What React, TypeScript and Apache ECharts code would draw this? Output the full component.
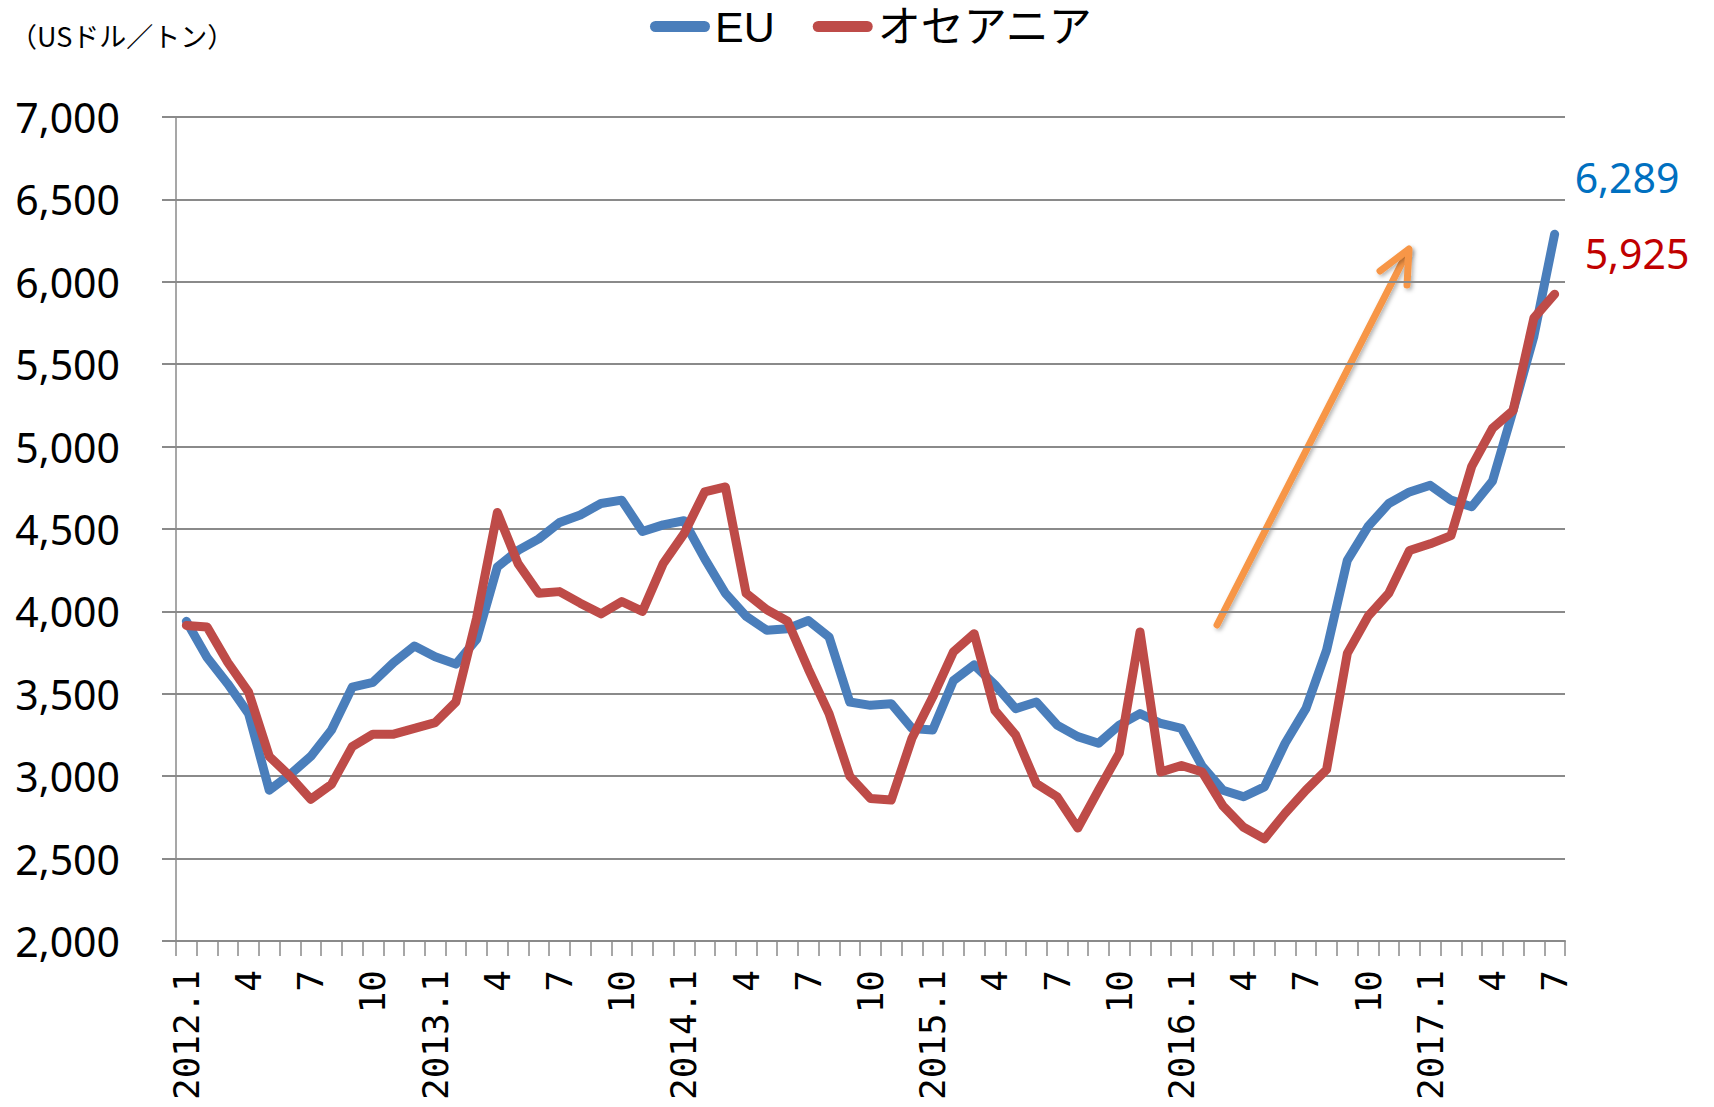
import React, { useEffect, useRef } from "react";
import * as echarts from "echarts";

const categories: string[] = [
  "2012.1", "2", "3", "4", "5", "6", "7", "8", "9", "10", "11", "12",
  "2013.1", "2", "3", "4", "5", "6", "7", "8", "9", "10", "11", "12",
  "2014.1", "2", "3", "4", "5", "6", "7", "8", "9", "10", "11", "12",
  "2015.1", "2", "3", "4", "5", "6", "7", "8", "9", "10", "11", "12",
  "2016.1", "2", "3", "4", "5", "6", "7", "8", "9", "10", "11", "12",
  "2017.1", "2", "3", "4", "5", "6", "7",
];

const euValues: number[] = [
  3940, 3720, 3560, 3380, 2915, 3010, 3120, 3280, 3540, 3570, 3690, 3790,
  3725, 3680, 3830, 4270, 4370, 4440, 4540, 4585, 4655, 4675, 4485, 4525,
  4550, 4320, 4110, 3970, 3885, 3895, 3945, 3845, 3450, 3430, 3440, 3290,
  3280, 3580, 3675, 3555, 3410, 3450, 3310, 3240, 3200, 3310, 3380, 3320,
  3290, 3060, 2915, 2875, 2935, 3200, 3410, 3765, 4310, 4515, 4655, 4725,
  4765, 4675, 4635, 4790, 5220, 5670, 6289,
];

const oceaniaValues: number[] = [
  3915, 3905, 3690, 3510, 3120, 3000, 2860, 2950, 3180, 3255, 3255, 3290,
  3325, 3450, 3960, 4600, 4290, 4110, 4120, 4050, 3985, 4060, 4000, 4290,
  4470, 4725, 4755, 4110, 4010, 3940, 3650, 3380, 3000, 2865, 2855, 3230,
  3480, 3755, 3865, 3400, 3250, 2955, 2875, 2685, 2915, 3140, 3875, 3025,
  3065, 3025, 2820, 2690, 2620, 2775, 2915, 3040, 3745, 3970, 4110, 4370,
  4410, 4460, 4880, 5110, 5220, 5780, 5925,
];

const seriesNames: string[] = ["EU", "オセアニア"];
const unitLabel = "（USドル／トン）";

const fmt = (v: number) => Number(v).toLocaleString("en-US");

function endLabel(color: string, offset: [number, number]) {
  return {
    show: true,
    distance: 5,
    offset,
    color,
    fontSize: 41,
    fontFamily: "'Noto Sans', sans-serif",
    formatter: (p: any) => fmt(Array.isArray(p.value) ? p.value[1] : p.value),
  };
}

export default function App() {
  const ref = useRef<HTMLDivElement>(null);
  useEffect(() => {
    if (!ref.current) return;
    const chart = echarts.init(ref.current, null, { renderer: "svg" });
    const gray = "#8a8a8a";
    const capsule =
      "path://M5.5,0 L54.5,0 A5.5,5.5 0 0 1 54.5,11 L5.5,11 A5.5,5.5 0 0 1 5.5,0 Z";
    chart.setOption({
      animation: false,
      backgroundColor: "#ffffff",
      title: {
        text: unitLabel,
        left: 10,
        top: 22,
        padding: 0,
        textStyle: {
          fontSize: 27,
          fontWeight: "normal",
          color: "#000",
          fontFamily: "'Noto Sans CJK JP', sans-serif",
        },
      },
      legend: {
        data: seriesNames,
        left: 650,
        top: 5,
        padding: 0,
        itemGap: 38,
        itemWidth: 60,
        itemHeight: 11,
        icon: capsule,
        textStyle: {
          fontSize: 43,
          color: "#000",
          fontFamily: "'Liberation Sans', 'Noto Sans CJK JP', sans-serif",
        },
      },
      grid: { left: 176, right: 149, top: 117, bottom: 166, containLabel: false },
      xAxis: {
        type: "category",
        data: categories,
        boundaryGap: true,
        axisLine: { show: true, lineStyle: { color: gray, width: 2 } },
        axisTick: {
          show: true,
          interval: 0,
          length: 15,
          lineStyle: { color: gray, width: 1.5 },
        },
        axisLabel: {
          interval: 2,
          rotate: 90,
          margin: 29,
          fontSize: 36,
          color: "#000",
          fontFamily: "'DejaVu Sans Mono', monospace",
        },
        splitLine: { show: false },
      },
      yAxis: {
        type: "value",
        min: 2000,
        max: 7000,
        interval: 500,
        axisLine: { show: true, lineStyle: { color: gray, width: 1.5 } },
        axisTick: { show: true, length: 14, lineStyle: { color: gray, width: 2 } },
        axisLabel: {
          margin: 56,
          fontSize: 41,
          color: "#000",
          fontFamily: "'Noto Sans', sans-serif",
          formatter: (v: number) => fmt(v),
        },
        splitLine: { show: true, lineStyle: { color: gray, width: 2 } },
      },
      series: [
        {
          name: seriesNames[0],
          type: "line",
          data: euValues,
          showSymbol: false,
          symbol: "none",
          color: "#4A7EBB",
          lineStyle: { width: 9, color: "#4A7EBB", cap: "round", join: "round" },
          endLabel: endLabel("#0070C0", [15, -57]),
          z: 3,
        },
        {
          name: seriesNames[1],
          type: "line",
          data: oceaniaValues,
          showSymbol: false,
          symbol: "none",
          color: "#BE4B48",
          lineStyle: { width: 9, color: "#BE4B48", cap: "round", join: "round" },
          endLabel: endLabel("#C00000", [25, -41]),
          z: 4,
        },
      ],
      graphic: [
        {
          type: "group",
          z: 100,
          children: [
            {
              type: "line",
              shape: { x1: 1217, y1: 625, x2: 1408, y2: 251 },
              style: {
                stroke: "#F79646",
                lineWidth: 7,
                lineCap: "round",
                shadowColor: "rgba(0,0,0,0.3)",
                shadowBlur: 4,
                shadowOffsetX: 2,
                shadowOffsetY: 2,
              },
            },
            {
              type: "polyline",
              shape: { points: [[1380, 271], [1409, 249], [1407, 285]] },
              style: {
                stroke: "#F79646",
                fill: "none",
                lineWidth: 7,
                lineCap: "round",
                lineJoin: "round",
                shadowColor: "rgba(0,0,0,0.3)",
                shadowBlur: 4,
                shadowOffsetX: 2,
                shadowOffsetY: 2,
              },
            },
          ],
        },
      ],
    });
    return () => chart.dispose();
  }, []);
  return (
    <div
      ref={ref}
      style={{ position: "fixed", left: 0, top: 0, width: 1714, height: 1107, background: "#fff" }}
    />
  );
}
